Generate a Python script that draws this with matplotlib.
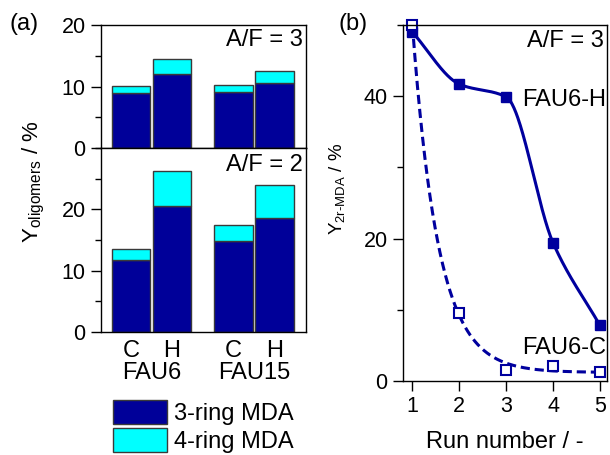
import numpy as np
import matplotlib
matplotlib.use('Agg')
import matplotlib.pyplot as plt
from matplotlib.ticker import MultipleLocator
import matplotlib.transforms as mtransforms

plt.rcParams.update({
    "font.family": "Liberation Sans",
    "mathtext.fontset": "custom",
    "mathtext.rm": "Liberation Sans",
    "mathtext.it": "Liberation Sans:italic",
    "mathtext.default": "regular",
    "axes.linewidth": 1.0,
})

# ---- data: (a) oligomer yields ----
bar_labels = ['C', 'H', 'C', 'H']
group_labels = ['FAU6', 'FAU15']
ring3_af3 = [9.0, 12.0, 9.1, 10.6]
ring4_af3 = [1.1, 2.5, 1.1, 1.9]
ring3_af2 = [11.7, 20.6, 14.8, 18.6]
ring4_af2 = [1.8, 5.7, 2.7, 5.3]

# ---- data: (b) 2r-MDA yield vs run ----
runs = [1, 2, 3, 4, 5]
fau6_h = [49.0, 41.7, 39.9, 19.4, 7.8]
fau6_c = [50.0, 9.5, 1.5, 2.1, 1.3]

dark = '#000099'
cyan = '#00FFFF'
edge = '#3a3a3a'
fs_tick = 15.5
fs_text = 17

fig = plt.figure(figsize=(6.1, 4.55), dpi=100)
ax_top = fig.add_axes([0.1656, 0.6747, 0.336, 0.2703])
ax_bot = fig.add_axes([0.1656, 0.2703, 0.336, 0.4044])
ax_r = fig.add_axes([0.6607, 0.1626, 0.3344, 0.7824])

xpos = np.array([0, 1, 2.5, 3.5])
group_pos = [0.5, 3.0]

for ax, r3, r4, ymax, af in [(ax_top, ring3_af3, ring4_af3, 20, 'A/F = 3'),
                             (ax_bot, ring3_af2, ring4_af2, 30, 'A/F = 2')]:
    b1 = ax.bar(xpos, r3, width=0.94, color=dark, edgecolor=edge, linewidth=1.0,
                label='3-ring MDA')
    b2 = ax.bar(xpos, r4, bottom=r3, width=0.94, color=cyan, edgecolor=edge,
                linewidth=1.0, label='4-ring MDA')
    ax.set_xlim(-0.73, 4.27)
    ax.set_ylim(0, ymax)
    ax.yaxis.set_major_locator(MultipleLocator(10))
    ax.yaxis.set_minor_locator(MultipleLocator(5))
    ax.tick_params(axis='y', which='major', direction='out', length=7, width=1,
                   labelsize=fs_tick, pad=4)
    ax.tick_params(axis='y', which='minor', direction='out', length=4, width=1)
    ax.text(0.985, 0.97, af, transform=ax.transAxes, ha='right', va='top',
            fontsize=fs_text)

ax_top.set_xticks([])
ax_top.set_yticks([0, 10, 20])
ax_bot.set_yticks([0, 10, 20])
ax_bot.set_xticks(xpos)
ax_bot.set_xticklabels(bar_labels)
ax_bot.tick_params(axis='x', which='both', length=0, labelsize=fs_text, pad=6)
trans = mtransforms.blended_transform_factory(ax_bot.transData, ax_bot.transAxes)
for gx, g in zip(group_pos, group_labels):
    ax_bot.text(gx, -0.165, g, transform=trans, ha='center', va='top',
                fontsize=fs_text)

fig.text(0.055, 0.60, r'Y$_{oligomers}$ / %', rotation=90, ha='center',
         va='center', fontsize=16)
fig.text(0.016, 0.947, '(a)', fontsize=fs_text, ha='left', va='center')

handles = [b1, b2]
fig.legend(handles, ['3-ring MDA', '4-ring MDA'], loc='upper left',
           bbox_to_anchor=(0.186, 0.121), frameon=False, fontsize=fs_text,
           handlelength=2.25, handleheight=1.2, handletextpad=0.3,
           labelspacing=0.12, borderpad=0, borderaxespad=0)


# ---- smooth guide line through the FAU6-H points (monotone cubic) ----
def pchip(x, y, xs):
    x = np.asarray(x, float)
    y = np.asarray(y, float)
    h = np.diff(x)
    d = np.diff(y) / h
    m = np.zeros_like(y)
    for k in range(1, len(x) - 1):
        if d[k - 1] * d[k] > 0:
            w1 = 2 * h[k] + h[k - 1]
            w2 = h[k] + 2 * h[k - 1]
            m[k] = (w1 + w2) / (w1 / d[k - 1] + w2 / d[k])
    m[0] = d[0]
    m[-1] = d[-1]
    out = np.empty_like(xs)
    for i, xv in enumerate(xs):
        k = min(np.searchsorted(x, xv, side='right') - 1, len(x) - 2)
        t = (xv - x[k]) / h[k]
        h00 = 2 * t**3 - 3 * t**2 + 1
        h10 = t**3 - 2 * t**2 + t
        h01 = -2 * t**3 + 3 * t**2
        h11 = t**3 - t**2
        out[i] = h00 * y[k] + h10 * h[k] * m[k] + h01 * y[k + 1] + h11 * h[k] * m[k + 1]
    return out


# exponential decay fit for the FAU6-C points
def exp_fit(x, y, xs):
    x = np.asarray(x, float)
    y = np.asarray(y, float)
    best = None
    for k in np.linspace(0.3, 5, 471):
        A = np.column_stack([np.exp(-k * (x - x[0])), np.ones_like(x)])
        coef, *_ = np.linalg.lstsq(A, y, rcond=None)
        err = np.sum((A @ coef - y) ** 2)
        if best is None or err < best[0]:
            best = (err, k, coef)
    _, k, coef = best
    return coef[0] * np.exp(-k * (xs - x[0])) + coef[1]


xs = np.linspace(1, 5, 300)
line_c = '#00009E'
ax_r.plot(xs, pchip(runs, fau6_h, xs), color=line_c, lw=2.2)
ax_r.plot(xs, exp_fit(runs, fau6_c, xs), color=line_c, lw=2.2, ls=(0, (3, 1.6)))
ax_r.plot(runs, fau6_h, 's', color=line_c, ms=7.5, clip_on=False)
ax_r.plot(runs, fau6_c, 's', mfc='white', mec=line_c, mew=1.5, ms=7,
          clip_on=False)

ax_r.set_xlim(0.8, 5.15)
ax_r.set_ylim(0, 50)
ax_r.set_xticks(runs)
ax_r.yaxis.set_major_locator(MultipleLocator(20))
ax_r.yaxis.set_minor_locator(MultipleLocator(10))
ax_r.tick_params(axis='both', which='major', direction='out', length=7, width=1,
                 labelsize=fs_tick, pad=4)
ax_r.tick_params(axis='y', which='minor', direction='out', length=4, width=1)
ax_r.set_xlabel('Run number / -', fontsize=fs_text, labelpad=10)
fig.text(0.553, 0.585, r'Y$_{2r\text{-}MDA}$ / %', rotation=90, ha='center',
         va='center', fontsize=13.5)
ax_r.text(0.985, 0.985, 'A/F = 3', transform=ax_r.transAxes, ha='right',
          va='top', fontsize=fs_text)
ax_r.text(5.13, 39.5, 'FAU6-H', ha='right', va='center', fontsize=fs_text)
ax_r.text(5.13, 4.6, 'FAU6-C', ha='right', va='center', fontsize=fs_text)
fig.text(0.555, 0.947, '(b)', fontsize=fs_text, ha='left', va='center')

fig.savefig('out.png', dpi=100)
